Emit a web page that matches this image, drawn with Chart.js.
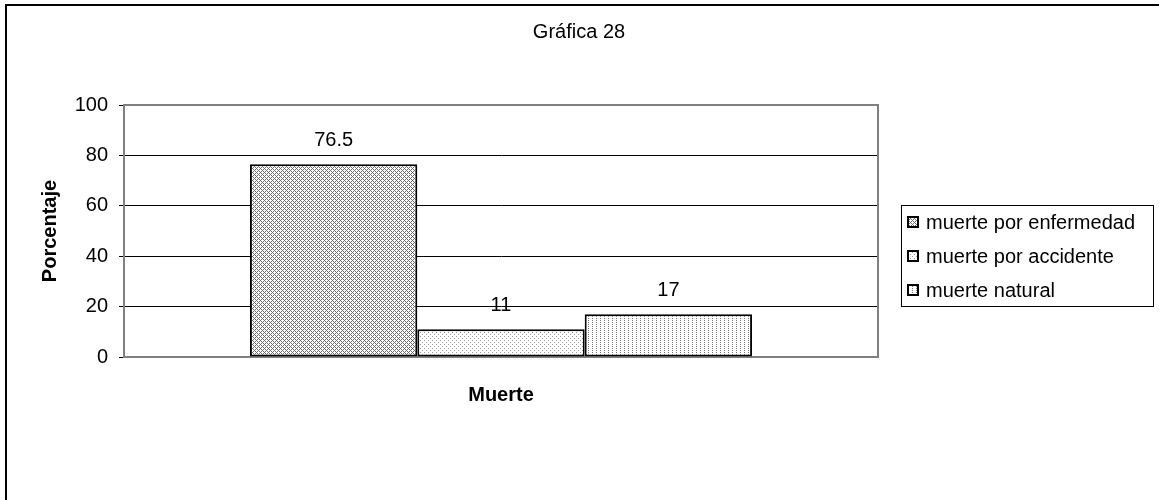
<!DOCTYPE html>
<html>
<head>
<meta charset="utf-8">
<script src="https://cdn.jsdelivr.net/npm/chart.js@4.4.1/dist/chart.umd.min.js"></script>
<style>
  html, body { margin: 0; padding: 0; background: #ffffff; }
  #wrap { width: 1159px; height: 500px; position: relative; }
</style>
</head>
<body>
<div id="wrap"><canvas id="chart"></canvas></div>
<script>
const FONT = '"Liberation Sans", Arial, sans-serif';

const categories = [''];
const seriesNames = ['muerte por enfermedad', 'muerte por accidente', 'muerte natural'];
const seriesValues = [[76.5], [11], [17]];
const yTicks = [0, 20, 40, 60, 80, 100];

// small bitmap tiles that mimic the old office fill patterns
function makePattern(size, isDark) {
  const c = document.createElement('canvas');
  c.width = size;
  c.height = size;
  const g = c.getContext('2d');
  g.fillStyle = '#ffffff';
  g.fillRect(0, 0, size, size);
  for (let y = 0; y < size; y++) {
    for (let x = 0; x < size; x++) {
      const v = isDark(x, y);
      if (v) {
        g.fillStyle = v;
        g.fillRect(x, y, 1, 1);
      }
    }
  }
  return g.createPattern(c, 'repeat');
}

const patterns = [
  makePattern(4, (x, y) => ((x + y) % 4 === 0 || ((x - y) + 4) % 4 === 0) ? '#6e6e6e' : null),
  makePattern(4, (x, y) => ((x === 0 && y === 0) || (x === 2 && y === 2)) ? '#9a9a9a' : null),
  makePattern(4, (x, y) => (x === 0 && y % 2 === 0) ? '#777777' : null),
];

const frameAndLabels = {
  id: 'frameAndLabels',
  beforeDraw(chart) {
    const { ctx } = chart;
    ctx.save();
    ctx.strokeStyle = '#000000';
    ctx.lineWidth = 2;
    ctx.beginPath();
    ctx.moveTo(6, 500);
    ctx.lineTo(6, 5);
    ctx.lineTo(1159, 5);
    ctx.stroke();

    ctx.fillStyle = '#000000';
    ctx.font = `20px ${FONT}`;
    ctx.textAlign = 'center';
    ctx.textBaseline = 'middle';
    ctx.fillText('Gráfica 28', 579, 32);
    ctx.restore();
  },
  beforeDatasetsDraw(chart) {
    const { ctx, chartArea } = chart;
    ctx.save();
    ctx.strokeStyle = '#808080';
    ctx.lineWidth = 2;
    ctx.strokeRect(chartArea.left, chartArea.top, chartArea.right - chartArea.left, chartArea.bottom - chartArea.top);
    ctx.restore();
  },
  afterDatasetsDraw(chart) {
    const { ctx } = chart;
    ctx.save();
    ctx.fillStyle = '#000000';
    ctx.font = `20px ${FONT}`;
    ctx.textAlign = 'center';
    ctx.textBaseline = 'middle';
    chart.data.datasets.forEach((ds, i) => {
      const bar = chart.getDatasetMeta(i).data[0];
      ctx.fillText(String(ds.data[0]), bar.x, bar.y - 24);
    });

    // legend box
    ctx.strokeStyle = '#000000';
    ctx.lineWidth = 1;
    ctx.strokeRect(901.5, 205.5, 252, 101);
    ctx.textAlign = 'left';
    chart.data.datasets.forEach((ds, i) => {
      const y = 222 + i * 34;
      ctx.fillStyle = patterns[i];
      ctx.fillRect(908, y - 5, 10, 10);
      ctx.lineWidth = 2;
      ctx.strokeRect(908, y - 5, 10, 10);
      ctx.fillStyle = '#000000';
      ctx.fillText(ds.label, 926, y + 1);
    });
    ctx.restore();
  },
};

new Chart(document.getElementById('chart'), {
  type: 'bar',
  data: {
    labels: categories,
    datasets: seriesNames.map((name, i) => ({
      label: name,
      data: seriesValues[i],
      backgroundColor: patterns[i],
      borderColor: '#000000',
      borderWidth: 2,
      borderSkipped: false,
      categoryPercentage: 0.666,
      barPercentage: 1,
    })),
  },
  options: {
    responsive: true,
    maintainAspectRatio: false,
    animation: false,
    layout: { padding: { left: 36, right: 281, top: 105, bottom: 89 } },
    plugins: {
      legend: { display: false },
      title: { display: false },
      tooltip: { enabled: false },
    },
    scales: {
      x: {
        grid: { display: false },
        border: { display: false },
        ticks: { display: false },
        title: {
          display: true,
          text: 'Muerte',
          color: '#000000',
          font: { family: FONT, size: 20, weight: 'bold' },
          padding: { top: 4, bottom: 4 },
        },
        afterFit(scale) { scale.height = 54; },
      },
      y: {
        min: 0,
        max: 100,
        afterBuildTicks(scale) { scale.ticks = yTicks.map((v) => ({ value: v })); },
        grid: {
          color: (c) => (c.tick && (c.tick.value === 0 || c.tick.value === 100)) ? '#808080' : '#000000',
          lineWidth: 1,
          tickLength: 5,
          tickColor: '#000000',
        },
        border: { color: '#808080', width: 2 },
        ticks: {
          color: '#000000',
          padding: 11,
          font: { family: FONT, size: 20 },
        },
        title: {
          display: true,
          text: 'Porcentaje',
          color: '#000000',
          font: { family: FONT, size: 20, weight: 'bold' },
          padding: { top: 2, bottom: 4 },
        },
        afterFit(scale) { scale.width = 88; },
      },
    },
  },
  plugins: [frameAndLabels],
});
</script>
</body>
</html>
